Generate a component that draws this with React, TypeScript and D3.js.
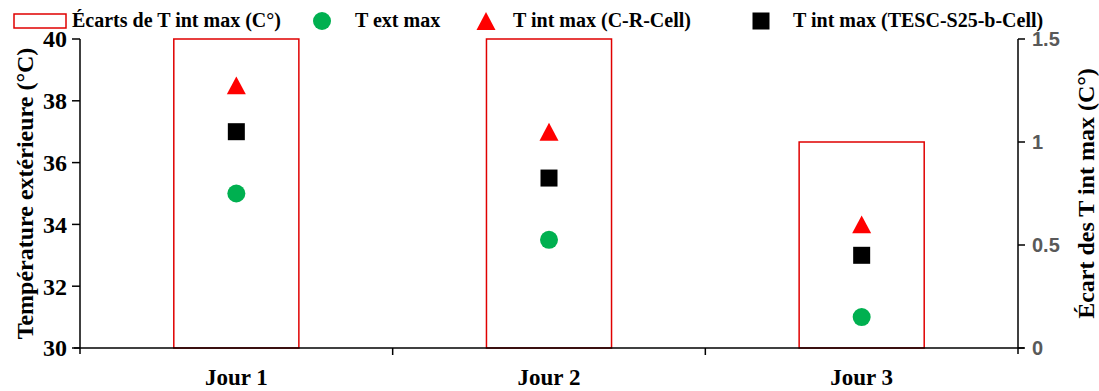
import React from "react";
import * as d3 from "d3";

const categories = ["Jour 1", "Jour 2", "Jour 3"];
const ecarts = [1.5, 1.5, 1.0];
const tExt = [35, 33.5, 31];
const tIntCR = [38.5, 37, 34];
const tIntTESC = [37, 35.5, 33];
const leftTicks = [30, 32, 34, 36, 38, 40];
const rightTicks = [0, 0.5, 1, 1.5];

const W = 1099, H = 391;
const L = 80, R = 1018, T = 39, B = 348;

const triPath = (s: number) => {
  const h = s * 0.94;
  return `M0,${-h / 2}L${s / 2},${h / 2}L${-s / 2},${h / 2}Z`;
};

export default function App() {
  const x = d3.scaleBand<string>().domain(categories).range([L, R]).paddingInner(0).paddingOuter(0);
  const yL = d3.scaleLinear().domain([30, 40]).range([B, T]);
  const yR = d3.scaleLinear().domain([0, 1.5]).range([B, T]);
  const bw = x.bandwidth() * 0.4;
  const cx = (c: string) => (x(c) as number) + x.bandwidth() / 2;
  const serif = "'Liberation Serif', 'Times New Roman', serif";
  const sans = "'Liberation Sans', 'DejaVu Sans', sans-serif";
  const tri = triPath(19);
  const sqS = 17;

  return (
    <svg width={W} height={H} style={{ position: "absolute", left: 0, top: 0, background: "#fff" }}>
      {categories.map((c, i) => (
        <rect key={c} x={cx(c) - bw / 2} y={yR(ecarts[i])} width={bw} height={B - yR(ecarts[i])}
          fill="none" stroke="#e00000" strokeWidth={1.5} />
      ))}
      <line x1={L} x2={L} y1={T} y2={B + 6} stroke="#000" strokeWidth={1.5} />
      <line x1={R} x2={R} y1={T} y2={B + 6} stroke="#000" strokeWidth={1.5} />
      <line x1={L - 6} x2={R + 6} y1={B} y2={B} stroke="#000" strokeWidth={1.5} />
      {categories.slice(1).map((c) => (
        <line key={c} x1={x(c) as number} x2={x(c) as number} y1={B} y2={B + 7} stroke="#000" strokeWidth={1.5} />
      ))}
      {leftTicks.map((t) => (
        <g key={t}>
          <line x1={L - 8} x2={L} y1={yL(t)} y2={yL(t)} stroke="#000" strokeWidth={1.5} />
          <text x={L - 13} y={yL(t)} dy="0.35em" textAnchor="end" fontFamily={serif} fontWeight="bold" fontSize={24}>{t}</text>
        </g>
      ))}
      {rightTicks.map((t) => (
        <g key={t}>
          <line x1={R} x2={R + 7} y1={yR(t)} y2={yR(t)} stroke="#000" strokeWidth={1.5} />
          <text x={R + 14} y={yR(t)} dy="0.36em" textAnchor="start" fontFamily={sans} fontWeight="bold" fill="#595959" fontSize={20}>{t}</text>
        </g>
      ))}
      {categories.map((c) => (
        <text key={c} x={cx(c)} y={385} textAnchor="middle" fontFamily={serif} fontWeight="bold" fontSize={23}>{c}</text>
      ))}
      <text transform={`translate(33,193.5) rotate(-90)`} textAnchor="middle" fontFamily={serif} fontWeight="bold" fontSize={24}>Température extérieure (°C)</text>
      <text transform={`translate(1094,193.5) rotate(-90)`} textAnchor="middle" fontFamily={serif} fontWeight="bold" fontSize={24}>Écart des T int max (C°)</text>
      {categories.map((c, i) => (
        <g key={c}>
          <circle cx={cx(c)} cy={yL(tExt[i])} r={9} fill="#00b050" />
          <path d={tri} transform={`translate(${cx(c)},${yL(tIntCR[i])})`} fill="#ff0000" />
          <rect x={cx(c) - sqS / 2} y={yL(tIntTESC[i]) - sqS / 2} width={sqS} height={sqS} fill="#000" />
        </g>
      ))}
      <g fontFamily={serif} fontWeight="bold" fontSize={20}>
        <rect x={14} y={14} width={52} height={14} fill="none" stroke="#e00000" strokeWidth={1.5} />
        <text x={72} y={27}>Écarts de T int max (C°)</text>
        <circle cx={322} cy={21} r={9} fill="#00b050" />
        <text x={355} y={27}>T ext max</text>
        <path d={tri} transform="translate(486,21)" fill="#ff0000" />
        <text x={513} y={27}>T int max (C-R-Cell)</text>
        <rect x={761 - sqS / 2} y={21 - sqS / 2} width={sqS} height={sqS} fill="#000" />
        <text x={793} y={27}>T int max (TESC-S25-b-Cell)</text>
      </g>
    </svg>
  );
}
